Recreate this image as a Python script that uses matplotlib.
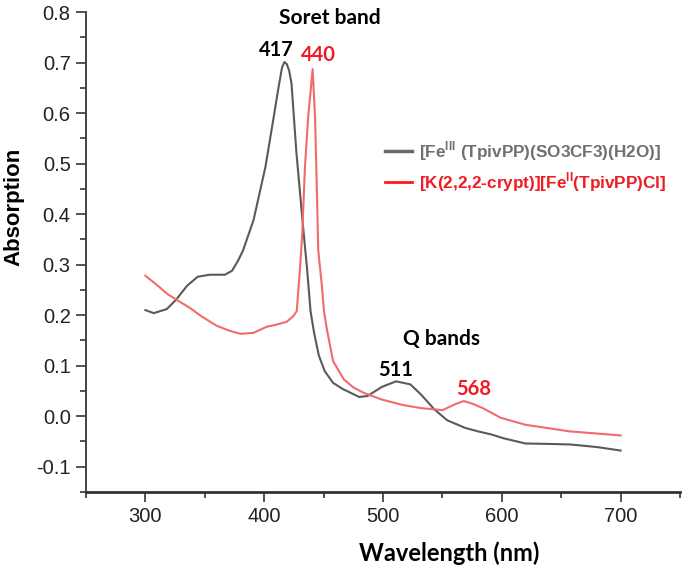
from matplotlib import pyplot as plt
import numpy as np
import matplotlib.ticker as mtick
from matplotlib.lines import Line2D

# Fe(III) complex, grey curve
wl_fe3 = [300, 307, 318, 326, 335, 344, 354, 367, 373, 378, 382, 391, 401, 408,
          412, 415, 417, 419, 421, 423, 427, 432, 436, 439, 442, 446, 451, 458,
          466, 473, 480, 487, 499, 511, 523, 532, 543, 554, 569, 580, 591, 602,
          620, 643, 658, 680, 700]
abs_fe3 = [0.210, 0.204, 0.212, 0.231, 0.258, 0.276, 0.280, 0.280, 0.288, 0.308,
           0.327, 0.388, 0.493, 0.592, 0.650, 0.690, 0.701, 0.697, 0.684, 0.658,
           0.525, 0.393, 0.294, 0.208, 0.165, 0.120, 0.089, 0.066, 0.054, 0.046,
           0.038, 0.040, 0.058, 0.069, 0.063, 0.043, 0.014, -0.008, -0.023, -0.030,
           -0.036, -0.044, -0.054, -0.055, -0.056, -0.061, -0.068]

# K(crypt) Fe(II) complex, red curve
wl_fe2 = [300, 309, 319, 337, 347, 360, 371, 380, 391, 402, 410, 419, 424.5, 427.4,
          430, 432, 434.3, 437, 440.8, 442.8, 444.2, 445.5, 448.4, 450.3, 453, 458,
          467, 475, 484, 499, 517, 532, 550, 561, 568, 575, 584, 599, 620, 657, 700]
abs_fe2 = [0.278, 0.261, 0.241, 0.215, 0.198, 0.179, 0.169, 0.163, 0.165, 0.177,
           0.181, 0.187, 0.198, 0.208, 0.288, 0.360, 0.493, 0.592, 0.687, 0.592,
           0.460, 0.328, 0.262, 0.208, 0.169, 0.109, 0.073, 0.057, 0.046, 0.033,
           0.022, 0.016, 0.012, 0.024, 0.030, 0.025, 0.016, -0.003, -0.017, -0.030,
           -0.038]

label_fe3 = r'[Fe$^{\mathrm{III}}$ (TpivPP)(SO3CF3)(H2O)]'
label_fe2 = r'[K(2,2,2-crypt)][Fe$^{\mathrm{II}}$(TpivPP)Cl]'

grey = '#5a5a5a'
red_line = '#f26b6b'
red_text = '#ee1c25'

plt.rcParams['mathtext.fontset'] = 'custom'
plt.rcParams['mathtext.rm'] = 'Liberation Sans:bold'
plt.rcParams['mathtext.bf'] = 'Liberation Sans:bold'

fig = plt.figure(figsize=(6.85, 5.65), dpi=100)
ax = fig.add_axes([86/685, 1 - 492/565, 594/685, 480/565])

ax.plot(wl_fe3, abs_fe3, c=grey, linewidth=1.5)
ax.plot(wl_fe2, abs_fe2, c=red_line, linewidth=1.5)

ax.set_xlim(250, 750)
ax.set_ylim(-0.15, 0.8)

ax.spines['top'].set_visible(False)
ax.spines['right'].set_visible(False)
ax.spines['left'].set_color('#444444')
ax.spines['bottom'].set_color('#333333')
ax.spines['left'].set_linewidth(1.4)
ax.spines['bottom'].set_linewidth(2.0)

ax.xaxis.set_major_locator(mtick.FixedLocator([300, 400, 500, 600, 700]))
ax.xaxis.set_minor_locator(mtick.FixedLocator([250, 350, 450, 550, 650, 750]))
ax.yaxis.set_major_locator(mtick.FixedLocator([-0.1, 0.0, 0.1, 0.2, 0.3, 0.4, 0.5, 0.6, 0.7, 0.8]))
ax.yaxis.set_minor_locator(mtick.MultipleLocator(0.05))
ax.yaxis.set_major_formatter(mtick.FormatStrFormatter('%.1f'))

ax.tick_params(which='major', length=7, width=1.3, color='#444444',
               labelsize=14.5, labelcolor='#222222', pad=4)
ax.tick_params(which='minor', length=4, width=1.3, color='#444444')
for t in ax.get_xticklabels() + ax.get_yticklabels():
    t.set_family('Liberation Sans')

ax.set_ylabel('Absorption', family='Liberation Sans', fontweight='bold', fontsize=16)
ax.set_xlabel('Wavelength (nm)', family='Lato', fontweight='bold', fontsize=17)
ax.yaxis.set_label_coords(-0.103, 0.595)
ax.xaxis.set_label_coords(0.611, -0.102)

# peak annotations
ann = dict(ha='center', va='center', family='Lato', fontweight='bold')
ax.text(455, 0.788, 'Soret band', fontsize=15, color='black', **ann)
ax.text(410, 0.725, '417', fontsize=14.5, color='black', **ann)
ax.text(446, 0.715, '440', fontsize=14.5, color=red_text, **ann)
ax.text(549, 0.153, 'Q bands', fontsize=15, color='black', **ann)
ax.text(511, 0.091, '511', fontsize=14.5, color='black', **ann)
ax.text(576, 0.054, '568', fontsize=14.5, color=red_text, **ann)

handles = [Line2D([], [], c='#6a6a6a', linewidth=2.5),
           Line2D([], [], c='#ff1a1a', linewidth=2.0)]
leg = ax.legend(handles, [label_fe3, label_fe2], loc='upper left',
                bbox_to_anchor=((370 - 86)/594, 1 - 112/480), frameon=False,
                handlelength=1.55, handletextpad=0.4, labelspacing=0.42,
                prop={'family': 'Liberation Sans', 'weight': 'bold', 'size': 12.3},
                labelcolor=['#707070', red_text])

fig.savefig('out.png', dpi=100)
